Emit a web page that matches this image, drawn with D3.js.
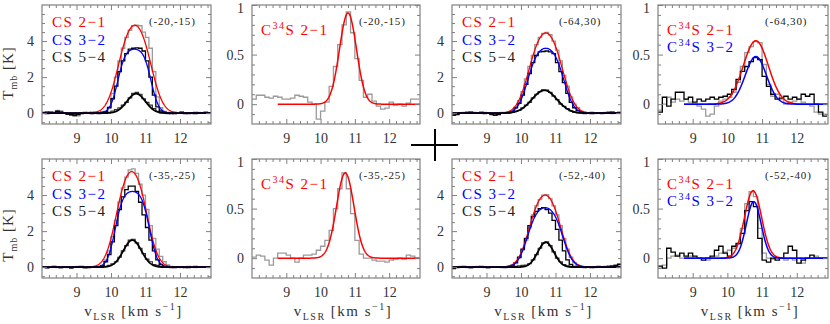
<!DOCTYPE html>
<html>
<head>
<meta charset="utf-8">
<script src="https://cdn.jsdelivr.net/npm/d3@7"></script>
<style>
  body { margin: 0; background: #fff; }
  svg text { font-family: 'Liberation Serif', serif; }
</style>
</head>
<body>
<script>
// channel grids (km/s)
const csStart = 8.05, csWidth = 0.1;       // CS spectra, 49 channels
const c34Start = 8.0625, c34Width = 0.125; // C34S spectra, 39 channels

const xTicks = [9, 10, 11, 12];
const csYTicks = [0, 2, 4];
const c34YTicks = [0, 0.5, 1];

// panel 1 (-20,-15) CS
const p1_cs21 = [0.05,0,0.08,0.05,0.15,0.12,0.02,-0.05,-0.1,-0.18,-0.15,-0.05,0,0.05,-0.02,0.03,0,0.08,0.1,0.35,1.1,2.0,2.9,3.6,4.2,4.6,4.85,4.88,4.85,4.5,4.2,3.6,2.3,0.9,0.3,0.1,0.05,0,-0.05,0.02,0.05,0,0.03,-0.02,0,0.04,0,0.05,0.02];
const p1_cs32 = [0.03,-0.02,0.05,0.02,0.1,0.05,0,-0.05,-0.08,-0.1,-0.08,0,0.02,0,0.05,0.02,-0.03,0.05,0.08,0.3,0.8,1.5,2.3,2.9,3.3,3.55,3.6,3.62,3.6,3.45,2.9,2.0,1.0,0.35,0.12,0.05,0,-0.03,0.02,0,0.04,-0.02,0,0.03,-0.02,0.02,0,0.03,0];
const p1_cs54 = [0.05,0.08,0.02,0.05,0.12,0.08,0,-0.05,-0.1,-0.12,-0.05,0,0.05,0.02,-0.02,0.05,0,0.03,0.05,0.05,0.12,0.2,0.3,0.45,0.6,0.85,1.1,1.15,1.05,0.8,0.6,0.45,0.25,0.1,0.02,0.05,-0.02,0,0.04,0.02,0.06,0,-0.03,0.02,0.05,0,0.03,0.06,0.02];
// fit parameters: [peak, tau, v0, fwhm]
const p1_fit21 = [4.88, 1, 10.69, 0.85];
const p1_fit32 = [3.55, 3, 10.68, 0.65];
const p1_fit54 = [1.08, 0, 10.73, 0.63];

// panel 2 (-20,-15) C34S
const p2_c34s21 = [0.05,0.09,0.09,0.07,0.06,0.08,0.07,0.05,0.05,0.06,0.09,0.08,0.07,0.02,0,-0.15,-0.07,0.02,0.18,0.38,0.6,0.8,0.93,0.72,0.46,0.24,0.07,0.1,0.03,-0.02,-0.05,-0.04,0.02,-0.01,0,-0.02,0.01,0.05,0.05];
const p2_fit21 = [0.92, 0, 10.8, 0.58];

// panel 3 (-64,30) CS
const p3_cs21 = [-0.12,-0.05,0.02,0.05,0,0.03,0.05,0.02,0,0.04,0.02,-0.03,0,0.03,0.05,0.02,0,0.1,0.35,0.7,1.2,1.9,2.6,3.2,3.8,4.2,4.42,4.48,4.35,4.0,3.5,2.9,2.1,1.5,0.9,0.5,0.3,0.1,0.05,0,0.03,-0.02,0,0.02,0.05,0,-0.02,0.03,0.05];
const p3_cs32 = [-0.1,-0.08,0,0.03,0.05,0.02,0,0.03,0.05,0.02,0,-0.05,-0.1,-0.08,0,0.02,0.05,0.1,0.3,0.55,1.0,1.6,2.2,2.8,3.2,3.4,3.42,3.45,3.4,3.3,2.8,2.3,1.7,1.1,0.6,0.3,0.15,0.05,0.02,0,-0.03,0,0.02,0,0.03,0.05,0,0.02,0.04];
const p3_cs54 = [-0.1,-0.05,0.03,0,0.05,0.08,0.02,0,0.05,-0.03,0,-0.08,-0.12,-0.05,0,0.03,0,0.05,0.1,0.15,0.3,0.45,0.6,0.85,1.05,1.2,1.3,1.28,1.15,0.95,0.75,0.5,0.38,0.25,0.12,0.05,0.02,0,-0.03,0.02,0.05,0,0.03,-0.02,0,0.05,0.08,0.03,0];
const p3_fit21 = [4.45, 1, 10.72, 0.87];
const p3_fit32 = [3.6, 2, 10.72, 0.785];
const p3_fit54 = [1.27, 0, 10.68, 0.85];

// panel 4 (-64,30) C34S
const p4_c34s21 = [-0.06,0,0.07,0.02,0.05,0.03,0.05,0.02,0,-0.02,-0.05,-0.12,-0.1,-0.02,0.03,0.05,0.07,0.12,0.22,0.38,0.52,0.58,0.63,0.62,0.4,0.2,0.08,0.1,0.05,0,0.02,0.03,0.05,0.02,0,-0.02,-0.08,-0.1,-0.1];
const p4_c34s32 = [-0.08,0.07,-0.02,0.05,0.12,0.12,0.05,0.07,0.02,0.05,0.03,0.05,0.07,0.05,0.07,0.08,0.1,0.15,0.25,0.33,0.38,0.43,0.47,0.45,0.28,0.18,0.1,0.05,0.06,0.08,0.05,0.07,0.05,0.1,0.08,0.1,0,-0.08,-0.12];
const p4_fit21 = [0.64, 0, 10.82, 0.85];
const p4_fit32 = [0.48, 0, 10.82, 0.72];

// panel 5 (-35,-25) CS
const p5_cs21 = [0,-0.05,0.02,0.05,-0.02,0,0.03,-0.03,0,0.02,0.05,0,-0.05,-0.03,0.02,0,0.05,0.1,0.4,0.9,1.7,2.6,3.6,4.4,5.0,5.4,5.45,5.2,4.6,4.0,3.2,2.3,1.6,1.0,0.6,0.3,0.12,0.05,0,0.03,-0.02,0,0.05,0.02,-0.02,0,0.03,0,0.02];
const p5_cs32 = [0.02,-0.02,0,0.03,0,-0.03,0,0.02,-0.02,0,0.03,0.02,-0.03,0,0.02,0,0.03,0.08,0.3,0.7,1.4,2.3,3.2,3.9,4.3,4.5,4.5,4.2,3.6,2.9,2.2,1.5,0.9,0.4,0.15,0.05,0,0.02,-0.02,0,0.03,0,-0.02,0,0.02,0,0.03,0,0.02];
const p5_cs54 = [0.02,-0.03,0,0.05,0.02,-0.02,0,0.03,-0.05,0,0.02,0.05,0,-0.03,0,0.02,0,0.03,0.05,0.1,0.18,0.3,0.55,0.9,1.2,1.5,1.55,1.35,1.05,0.75,0.45,0.3,0.15,0.1,0.05,0,0.02,-0.02,0,0.03,0,-0.02,0.02,0,0.05,0,0.02,0,0.03];
const p5_fit21 = [5.3, 1, 10.6, 0.8];
const p5_fit32 = [4.2, 3, 10.62, 0.67];
const p5_fit54 = [1.5, 0, 10.62, 0.62];

// panel 6 (-35,-25) C34S
const p6_c34s21 = [0.01,0.03,0.02,-0.02,-0.07,0,0.05,0.05,0.03,0,-0.04,0,0.03,0.03,0.04,0.08,0.12,0.18,0.28,0.5,0.7,0.86,0.7,0.45,0.18,0.04,0,0,-0.02,-0.03,-0.03,-0.04,-0.02,-0.01,0,-0.01,0.03,0.02,0];
const p6_fit21 = [0.86, 0, 10.72, 0.6];

// panel 7 (-52,-40) CS
const p7_cs21 = [-0.05,0.02,0.05,0,-0.03,0,0.02,0.05,0,-0.02,0,0.03,0,0.02,-0.02,0,0.03,0.08,0.2,0.5,0.95,1.5,2.2,2.9,3.4,3.75,4.0,4.02,3.8,3.4,2.9,2.3,1.6,1.0,0.55,0.25,0.1,0.05,0,0.03,0,-0.02,0,0.03,0.05,0.02,0.08,0.12,0.2];
const p7_cs32 = [-0.08,-0.03,0,0.03,0,-0.02,0.02,0,0.03,0,-0.03,0,0.02,0,0.03,0.02,0.05,0.1,0.25,0.55,1.0,1.6,2.3,2.8,3.1,3.25,3.3,3.2,3.0,2.6,2.1,1.5,0.9,0.4,0.15,0.05,0.02,0,0.03,0,-0.02,0,0.03,0,0.02,0.05,0.03,0.08,0.15];
const p7_cs54 = [-0.05,0,0.03,0.05,0,-0.03,0,0.02,0.05,0,-0.02,0.03,0,0.02,0,-0.03,0.02,0.03,0.05,0.08,0.1,0.12,0.2,0.4,0.7,1.05,1.35,1.4,1.2,0.85,0.5,0.3,0.15,0.08,0.03,0,0.02,0,-0.02,0.03,0,0.02,0.05,0,0.03,0.05,0.08,0.1,0.15];
const p7_fit21 = [4.0, 1, 10.7, 0.82];
const p7_fit32 = [3.3, 2, 10.7, 0.77];
const p7_fit54 = [1.38, 0, 10.72, 0.55];

// panel 8 (-52,-40) C34S
const p8_c34s21 = [-0.1,-0.07,0,0.02,0.03,0,0,0.02,0,0,0,-0.02,0,0.02,0.05,0.06,0.08,0.1,0.14,0.3,0.55,0.67,0.62,0.3,0.05,0,-0.01,0,0,-0.02,0,-0.02,0,-0.05,0,0,0.02,0,0];
const p8_c34s32 = [-0.08,-0.1,0.1,0.06,0.02,0.05,0.02,0.05,0.02,0,-0.02,0,0.02,0.08,0.12,0.05,0.02,0.12,0.15,0.25,0.48,0.57,0.52,0.2,-0.02,-0.04,0,-0.02,0,0.05,0.12,0.08,-0.05,-0.02,0,0.03,0,0,0];
const p8_fit21 = [0.68, 0, 10.74, 0.58];
const p8_fit32 = [0.57, 0, 10.76, 0.5];

const RED = '#ff0000', BLUE = '#0000ff', BLACK = '#000000', GRAY = '#9a9a9a';

const cs = (values, color, w) => ({ values, start: csStart, width: csWidth, color, w });
const c34 = (values, color, w) => ({ values, start: c34Start, width: c34Width, color, w });

const csLegend = [['CS 2\u22121', RED], ['CS 3\u22122', BLUE], ['CS 5\u22124', '#222']];

const panels = [
  { col: 0, row: 0, kind: 'cs', pos: '(-20,-15)',
    hist: [cs(p1_cs21, GRAY, 1.3), cs(p1_cs54, '#333', 1.2), cs(p1_cs32, BLACK, 1.3)],
    fits: [[p1_fit21, RED, 1.3], [p1_fit32, BLUE, 1.3], [p1_fit54, BLACK, 1.8]] },
  { col: 1, row: 0, kind: 'c34', pos: '(-20,-15)', legend: [['2\u22121', RED]],
    hist: [c34(p2_c34s21, GRAY, 1.3)],
    fits: [[p2_fit21, RED, 1.5]] },
  { col: 2, row: 0, kind: 'cs', pos: '(-64,30)',
    hist: [cs(p3_cs21, GRAY, 1.3), cs(p3_cs54, '#333', 1.2), cs(p3_cs32, BLACK, 1.3)],
    fits: [[p3_fit21, RED, 1.3], [p3_fit32, BLUE, 1.3], [p3_fit54, BLACK, 1.8]] },
  { col: 3, row: 0, kind: 'c34', pos: '(-64,30)', legend: [['2\u22121', RED], ['3\u22122', BLUE]],
    hist: [c34(p4_c34s21, GRAY, 1.3), c34(p4_c34s32, BLACK, 1.3)],
    fits: [[p4_fit21, RED, 1.5], [p4_fit32, BLUE, 1.5]] },
  { col: 0, row: 1, kind: 'cs', pos: '(-35,-25)',
    hist: [cs(p5_cs21, GRAY, 1.3), cs(p5_cs54, '#333', 1.2), cs(p5_cs32, BLACK, 1.3)],
    fits: [[p5_fit21, RED, 1.3], [p5_fit32, BLUE, 1.3], [p5_fit54, BLACK, 1.8]] },
  { col: 1, row: 1, kind: 'c34', pos: '(-35,-25)', legend: [['2\u22121', RED]],
    hist: [c34(p6_c34s21, GRAY, 1.3)],
    fits: [[p6_fit21, RED, 1.5]] },
  { col: 2, row: 1, kind: 'cs', pos: '(-52,-40)',
    hist: [cs(p7_cs21, GRAY, 1.3), cs(p7_cs54, '#333', 1.2), cs(p7_cs32, BLACK, 1.3)],
    fits: [[p7_fit21, RED, 1.3], [p7_fit32, BLUE, 1.3], [p7_fit54, BLACK, 1.8]] },
  { col: 3, row: 1, kind: 'c34', pos: '(-52,-40)', legend: [['2\u22121', RED], ['3\u22122', BLUE]],
    hist: [c34(p8_c34s21, GRAY, 1.3), c34(p8_c34s32, BLACK, 1.3)],
    fits: [[p8_fit21, RED, 1.5], [p8_fit32, BLUE, 1.5]] },
];

const colLeft = [42, 252, 452, 658];
const colWidth = [169, 168, 169, 170];
const rowTop = [5, 159];
const panelH = 119;

const svg = d3.select('body').append('svg')
  .attr('width', 830)
  .attr('height', 324);

// line profile with optical depth (tau=0 -> plain gaussian)
function profile(p, v) {
  const [a, tau, v0, fw] = p;
  const g = Math.exp(-4 * Math.LN2 * (v - v0) * (v - v0) / (fw * fw));
  if (tau <= 0) return a * g;
  return a * (1 - Math.exp(-tau * g)) / (1 - Math.exp(-tau));
}

panels.forEach((p, idx) => {
  const L = colLeft[p.col], T = rowTop[p.row], W = colWidth[p.col], H = panelH;
  const g = svg.append('g').attr('transform', `translate(${L},${T})`);

  const x = d3.scaleLinear().domain([8, 12.9]).range([0, W]);
  const y = d3.scaleLinear()
    .domain(p.kind === 'cs' ? [-0.6, 6] : [-0.2, 1])
    .range([H, 0]);

  g.append('clipPath').attr('id', 'clip' + idx)
    .append('rect').attr('width', W).attr('height', H);
  const plot = g.append('g').attr('clip-path', `url(#clip${idx})`);

  const line = d3.line().x(d => x(d[0])).y(d => y(d[1]));

  // spectra as step histograms
  p.hist.forEach(s => {
    const pts = s.values.map((t, i) => [s.start + i * s.width - s.width / 2, t]);
    pts.push([s.start + s.values.length * s.width - s.width / 2, s.values[s.values.length - 1]]);
    plot.append('path')
      .attr('d', line.curve(d3.curveStepAfter)(pts))
      .attr('fill', 'none')
      .attr('stroke', s.color)
      .attr('stroke-width', s.w);
  });

  // fitted profiles
  const vFrom = p.kind === 'cs' ? 8.0 : 8.75;
  const vs = d3.range(vFrom, 12.91, 0.01);
  p.fits.forEach(([par, color, w]) => {
    plot.append('path')
      .attr('d', line.curve(d3.curveLinear)(vs.map(v => [v, profile(par, v)])))
      .attr('fill', 'none')
      .attr('stroke', color)
      .attr('stroke-width', w);
  });

  // axes, ticks pointing inward on all four sides
  const yMajor = p.kind === 'cs' ? csYTicks : c34YTicks;
  const yMinor = p.kind === 'cs'
    ? d3.range(-0.5, 6.01, 0.5).filter(v => v % 2 !== 0)
    : d3.range(-0.1, 1.0, 0.1).filter(v => Math.abs(v * 2 - Math.round(v * 2)) > 1e-6);
  const xMinor = d3.range(8.2, 12.81, 0.2).filter(v => Math.abs(v - Math.round(v)) > 1e-6);

  const tickStyle = sel => {
    sel.select('.domain').remove();
    sel.selectAll('line').attr('stroke', '#808080').attr('stroke-width', 1);
    sel.selectAll('text')
      .attr('fill', '#333')
      .style('font-family', "'Liberation Serif', serif")
      .style('font-size', '14px');
  };

  g.append('g').attr('transform', `translate(0,${H})`)
    .call(d3.axisBottom(x).tickValues(xTicks).tickSize(-5).tickPadding(9).tickFormat(d3.format('d')))
    .call(tickStyle);
  g.append('g').attr('transform', `translate(0,${H})`)
    .call(d3.axisBottom(x).tickValues(xMinor).tickSize(-3).tickFormat(''))
    .call(tickStyle);
  g.append('g')
    .call(d3.axisTop(x).tickValues(xTicks).tickSize(-5).tickFormat(''))
    .call(tickStyle);
  g.append('g')
    .call(d3.axisTop(x).tickValues(xMinor).tickSize(-3).tickFormat(''))
    .call(tickStyle);

  const yAxis = g.append('g')
    .call(d3.axisLeft(y).tickValues(yMajor).tickSize(-5).tickPadding(8).tickFormat(d => String(d)))
    .call(tickStyle);
  // the label at the very top edge sits a little lower, as in the original
  yAxis.selectAll('.tick text').filter(d => y(d) < 2).attr('dy', '0.55em');
  g.append('g')
    .call(d3.axisLeft(y).tickValues(yMinor).tickSize(-3).tickFormat(''))
    .call(tickStyle);
  g.append('g').attr('transform', `translate(${W},0)`)
    .call(d3.axisRight(y).tickValues(yMajor).tickSize(-5).tickFormat(''))
    .call(tickStyle);
  g.append('g').attr('transform', `translate(${W},0)`)
    .call(d3.axisRight(y).tickValues(yMinor).tickSize(-3).tickFormat(''))
    .call(tickStyle);

  g.append('rect')
    .attr('width', W).attr('height', H)
    .attr('fill', 'none')
    .attr('stroke', '#808080')
    .attr('stroke-width', 1.2);

  // legend
  if (p.kind === 'cs') {
    csLegend.forEach(([label, color], i) => {
      g.append('text')
        .attr('x', 10).attr('y', 22 + i * 17.5)
        .attr('fill', color)
        .style('font-size', '15px')
        .style('letter-spacing', '1.5px')
        .text(label);
    });
  } else {
    p.legend.forEach(([trans, color], i) => {
      const t = g.append('text')
        .attr('x', 9).attr('y', 30 + i * 17)
        .attr('fill', color)
        .style('font-size', '15px')
        .style('letter-spacing', '1.5px');
      t.append('tspan').text('C');
      t.append('tspan').attr('dy', -6).style('font-size', '10px').text('34');
      t.append('tspan').attr('dy', 6).text('S ' + trans);
    });
  }

  g.append('text')
    .attr('x', 107).attr('y', 20)
    .attr('fill', '#222')
    .style('font-size', '11px')
    .style('letter-spacing', '0.8px')
    .text(p.pos);

  // axis titles
  if (p.col === 0) {
    const t = g.append('text')
      .attr('transform', `translate(-29,${p.row === 0 ? 68 : 76}) rotate(-90)`)
      .attr('text-anchor', 'middle')
      .attr('fill', '#333')
      .style('font-size', '15px')
      .style('letter-spacing', '1px');
    t.append('tspan').text('T');
    t.append('tspan').attr('dy', 4).style('font-size', '10px').text('mb');
    t.append('tspan').attr('dy', -4).text(' [K]');
  }
  if (p.row === 1) {
    const t = g.append('text')
      .attr('x', W / 2 + 7).attr('y', H + 38)
      .attr('text-anchor', 'middle')
      .attr('fill', '#333')
      .style('font-size', '15px')
      .style('letter-spacing', '1.5px');
    t.append('tspan').text('v');
    t.append('tspan').attr('dy', 4).style('font-size', '10px').text('LSR');
    t.append('tspan').attr('dy', -4).text(' [km s');
    t.append('tspan').attr('dy', -6).style('font-size', '10px').text('\u22121');
    t.append('tspan').attr('dy', 6).text(']');
  }
});

// centre cross
svg.append('line').attr('x1', 411).attr('x2', 458).attr('y1', 145).attr('y2', 145)
  .attr('stroke', '#000').attr('stroke-width', 2);
svg.append('line').attr('x1', 435).attr('x2', 435).attr('y1', 129).attr('y2', 161)
  .attr('stroke', '#000').attr('stroke-width', 2);
</script>
</body>
</html>
